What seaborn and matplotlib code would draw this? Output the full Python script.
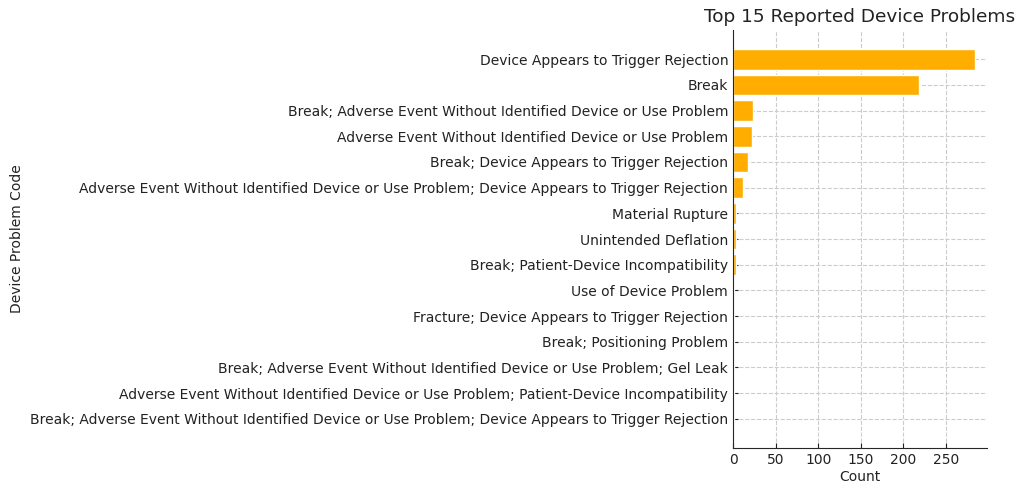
import matplotlib
matplotlib.use('Agg')
import matplotlib.pyplot as plt
import seaborn as sns
import pandas as pd

problems = [
    'Device Appears to Trigger Rejection',
    'Break',
    'Break; Adverse Event Without Identified Device or Use Problem',
    'Adverse Event Without Identified Device or Use Problem',
    'Break; Device Appears to Trigger Rejection',
    'Adverse Event Without Identified Device or Use Problem; Device Appears to Trigger Rejection',
    'Material Rupture',
    'Unintended Deflation',
    'Break; Patient-Device Incompatibility',
    'Use of Device Problem',
    'Fracture; Device Appears to Trigger Rejection',
    'Break; Positioning Problem',
    'Break; Adverse Event Without Identified Device or Use Problem; Gel Leak',
    'Adverse Event Without Identified Device or Use Problem; Patient-Device Incompatibility',
    'Break; Adverse Event Without Identified Device or Use Problem; Device Appears to Trigger Rejection',
]
counts = [284, 218, 23, 22, 18, 12, 4, 3, 3, 1, 1, 1, 1, 1, 1]

df = pd.DataFrame({'Device Problem Code': problems, 'Count': counts})

sns.set_style('ticks')
plt.rcParams.update({'font.family': ['DejaVu Sans'], 'text.color': '#222222',
                     'axes.labelcolor': '#222222', 'xtick.color': '#222222',
                     'ytick.color': '#222222',
                     'xtick.direction': 'in', 'ytick.direction': 'in'})

fig, ax = plt.subplots(figsize=(10.25, 4.94), dpi=100)
sns.barplot(data=df, x='Count', y='Device Problem Code', color='#FFAE00',
            saturation=1, width=0.8, ax=ax)
ax.grid(True, linestyle='--', color='#cccccc', linewidth=0.8)
ax.set_axisbelow(True)
sns.despine(ax=ax)
ax.set_xlim(0, 298)
ax.set_ylim(15.14, -1.14)
ax.set_xticks([0, 50, 100, 150, 200, 250])
ax.set_title('Top 15 Reported Device Problems', fontsize=13.3)
ax.set_xlabel('Count', fontsize=10, labelpad=2)
ax.set_ylabel('Device Problem Code', fontsize=10)
ax.tick_params(labelsize=10, direction='in')
fig.subplots_adjust(left=733 / 1025, right=987 / 1025, top=1 - 30 / 494, bottom=1 - 448 / 494)
plt.savefig('out.png')
